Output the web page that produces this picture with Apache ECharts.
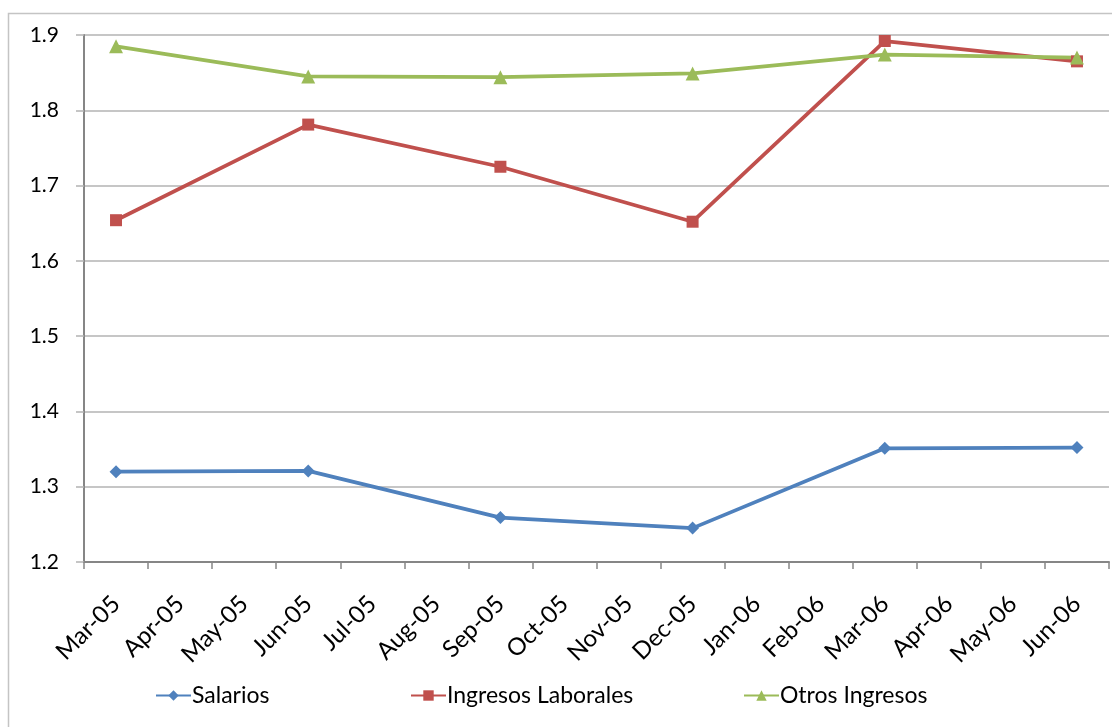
<!DOCTYPE html>
<html>
<head>
<meta charset="utf-8">
<title>Salarios e Ingresos</title>
<script src="https://cdn.jsdelivr.net/npm/echarts@6/dist/echarts.min.js"></script>
<style>
  html, body { margin: 0; padding: 0; background: #ffffff; }
  #chart { width: 1112px; height: 727px; }
</style>
</head>
<body>
<div id="chart"></div>
<script>
// Monthly categories; the series are quarterly, gaps are joined.
const months = ['Mar-05', 'Apr-05', 'May-05', 'Jun-05', 'Jul-05', 'Aug-05', 'Sep-05', 'Oct-05',
                'Nov-05', 'Dec-05', 'Jan-06', 'Feb-06', 'Mar-06', 'Apr-06', 'May-06', 'Jun-06'];

const salarios          = [1.320, null, null, 1.321, null, null, 1.259, null, null, 1.245, null, null, 1.351, null, null, 1.352];
const ingresosLaborales = [1.654, null, null, 1.781, null, null, 1.725, null, null, 1.652, null, null, 1.892, null, null, 1.865];
const otrosIngresos     = [1.885, null, null, 1.845, null, null, 1.844, null, null, 1.849, null, null, 1.874, null, null, 1.870];

const yTicks = { min: 1.2, max: 1.9, step: 0.1 };

const textFont = 'Lato';

function lineSeries(name, data, color, symbol, size) {
  return {
    name: name,
    type: 'line',
    data: data,
    xAxisIndex: 0,
    connectNulls: true,
    symbol: symbol,
    symbolSize: size,
    showAllSymbol: true,
    lineStyle: { color: color, width: 3.75 },
    itemStyle: { color: color },
    emphasis: { disabled: true },
    animation: false
  };
}

function legendItem(name, left) {
  return {
    data: [name],
    left: left,
    top: 684,
    padding: 0,
    itemWidth: 35,
    itemHeight: 13,
    itemGap: 4,
    selectedMode: false,
    textStyle: { fontFamily: textFont, fontSize: 23, color: '#000000', padding: [0, 0, 0, -4] }
  };
}

const chart = echarts.init(document.getElementById('chart'), null, { renderer: 'canvas' });

chart.setOption({
  backgroundColor: '#ffffff',
  animation: false,
  graphic: [{
    type: 'rect',
    shape: { x: 8.5, y: 13.5, width: 1300, height: 900 },
    style: { fill: 'none', stroke: '#c4c4c4', lineWidth: 1.5 },
    silent: true,
    z: -10
  }],
  grid: { left: 84, right: 3, top: 35, bottom: 165, containLabel: false, outerBoundsMode: 'none' },
  legend: [
    legendItem('Salarios', 155),
    legendItem('Ingresos Laborales', 410),
    legendItem('Otros Ingresos', 743)
  ],
  xAxis: [
    {
      // axis line and month ticks
      type: 'category',
      data: months,
      boundaryGap: true,
      axisLine: { show: true, lineStyle: { color: '#868686', width: 2 } },
      axisTick: { show: true, alignWithLabel: false, interval: 0, length: 7, lineStyle: { color: '#868686', width: 1.5 } },
      axisLabel: { show: false },
      splitLine: { show: false }
    },
    {
      // rotated month labels, set a little lower than the axis line
      type: 'category',
      data: months,
      position: 'bottom',
      offset: 12,
      boundaryGap: true,
      axisLine: { show: false },
      axisTick: { show: false },
      axisLabel: {
        interval: 0,
        rotate: 45,
        margin: 26,
        hideOverlap: false,
        fontFamily: textFont,
        fontSize: 24,
        color: '#000000'
      },
      splitLine: { show: false }
    }
  ],
  yAxis: {
    type: 'value',
    min: yTicks.min,
    max: yTicks.max,
    interval: yTicks.step,
    axisLine: { show: true, lineStyle: { color: '#868686', width: 2 } },
    axisTick: { show: true, length: 8, lineStyle: { color: '#b3b3b3', width: 1.5 } },
    axisLabel: {
      margin: 25,
      fontFamily: textFont,
      fontSize: 21,
      color: '#000000',
      formatter: function (v) { return v.toFixed(1); }
    },
    splitLine: { show: true, lineStyle: { color: '#b3b3b3', width: 1.5 } }
  },
  series: [
    lineSeries('Salarios', salarios, '#4F81BD', 'diamond', 13),
    lineSeries('Ingresos Laborales', ingresosLaborales, '#C0504D', 'rect', 12),
    lineSeries('Otros Ingresos', otrosIngresos, '#9BBB59', 'triangle', 14)
  ]
});
</script>
</body>
</html>
